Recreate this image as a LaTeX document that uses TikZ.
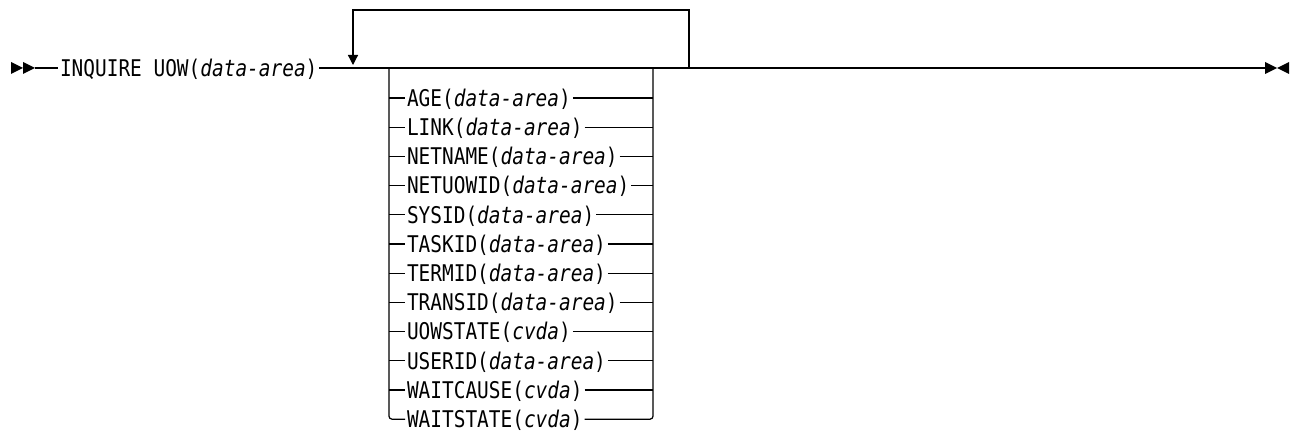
\documentclass[tikz,border=0pt]{standalone}
\usepackage{fontspec}
\newfontfamily\synfont{DejaVu Sans Mono}[FakeStretch=0.845]
\usetikzlibrary{arrows.meta,calc}

\begin{document}
\begin{tikzpicture}[x=1pt,y=1pt,line width=1.2pt]
\tikzset{kw/.style={font=\synfont\fontsize{23}{23}\selectfont,inner sep=2pt,outer sep=0pt,
  text height=16.5pt,text depth=0pt,anchor=west},
  tip/.style={fill=black,draw=none}}
\useasboundingbox (0,0) rectangle (1294,-433);
% main line
\coordinate (in) at (35,-68);
\coordinate (loopL) at (353,-68);
\coordinate (boxL) at (389,-68);
\coordinate (boxR) at (653,-68);
\coordinate (loopR) at (689,-68);
\coordinate (out) at (1265,-68);
\node[kw] (cmd) at (58,-68) {INQUIRE UOW(\textit{data-area})};
\fill[tip] (in) ++(-24,6) -- ++(12,-6) -- ++(-12,-6) -- cycle;
\fill[tip] (in) ++(-12,6) -- ++(12,-6) -- ++(-12,-6) -- cycle;
\fill[tip] (out) ++(0,6) -- ++(12,-6) -- ++(-12,-6) -- cycle;
\fill[tip] (out) ++(24,6) -- ++(-12,-6) -- ++(12,-6) -- cycle;
\draw (in) -- (cmd.west);
\draw (cmd.east) -- (out);
% repeat loop
\draw[-{Triangle[length=10pt,width=10pt]}] (loopR) -- ($(loopR)+(0,58)$) -| ($(loopL)+(0,3)$);
% options
\foreach \kwd/\arg [count=\i] in {AGE/data-area,LINK/data-area,NETNAME/data-area,
  NETUOWID/data-area,SYSID/data-area,TASKID/data-area,TERMID/data-area,
  TRANSID/data-area,UOWSTATE/cvda,USERID/data-area,WAITCAUSE/cvda,WAITSTATE/cvda}
  \node[kw] (opt\i) at (405,-98-29.2*\i+29.2) {\kwd(\textit{\arg})};
\foreach \i in {1,...,11} {
  \draw (opt\i.west -| boxL) -- (opt\i.west);
  \draw (opt\i.east) -- (opt\i.east -| boxR);
}
\draw[rounded corners=3pt] (boxL) |- (opt12.west);
\draw[rounded corners=3pt] (opt12.east) -| (boxR);
\end{tikzpicture}
\end{document}
